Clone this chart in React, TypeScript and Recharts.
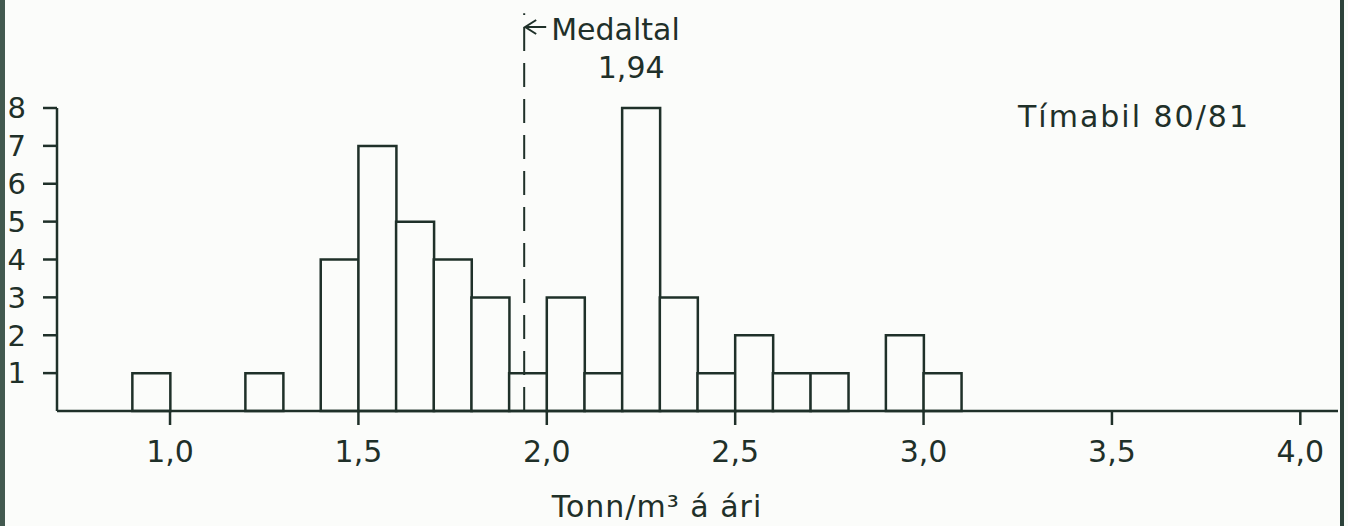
import { ComposedChart, Bar, XAxis, YAxis, ReferenceLine, Customized } from 'recharts';

// bin centres (0.1 wide bins) and how many fall in each
const binCenters = [0.95, 1.05, 1.15, 1.25, 1.35, 1.45, 1.55, 1.65, 1.75, 1.85, 1.95, 2.05, 2.15, 2.25, 2.35, 2.45, 2.55, 2.65, 2.75, 2.85, 2.95, 3.05];
const counts = [1, 0, 0, 1, 0, 4, 7, 5, 4, 3, 1, 3, 1, 8, 3, 1, 2, 1, 1, 0, 2, 1];
const xTicks = [1.0, 1.5, 2.0, 2.5, 3.0, 3.5, 4.0];
const yTicks = [1, 2, 3, 4, 5, 6, 7, 8];
const median = 1.94;

const data = binCenters.map((x, i) => ({ x, n: counts[i] }));

const INK = '#1f3029';
const FONT = '"DejaVu Sans", sans-serif';

const MedianLabel = (props: any) => {
  const x = props.viewBox && typeof props.viewBox.x === 'number' ? props.viewBox.x : 523;
  return (
    <g>
      <line x1={x + 1} y1={27} x2={x + 22} y2={27} stroke={INK} strokeWidth={2} />
      <polyline points={`${x + 12},20 ${x + 1},27 ${x + 12},34`} fill="none" stroke={INK} strokeWidth={2} />
      <text x={x + 27} y={40} fontSize={30} fontFamily={FONT} fill={INK}>Medaltal</text>
      <text x={x + 107} y={78} fontSize={30} fontFamily={FONT} fill={INK} textAnchor="middle">1,94</text>
    </g>
  );
};

const Notes = () => (
  <g>
    <text x={1018} y={127} fontSize={30} fontFamily={FONT} fill={INK} letterSpacing={2}>Tímabil 80/81</text>
    <text x={657} y={517} fontSize={30} fontFamily={FONT} fill={INK} textAnchor="middle" letterSpacing={1}>Tonn/m³ á ári</text>
  </g>
);

export default function App() {
  return (
    <div style={{ position: 'absolute', left: 0, top: 0, width: 1348, height: 526, background: '#fbfcfa', overflow: 'hidden' }}>
      {/* paper edges */}
      <div style={{ position: 'absolute', left: 0, top: 0, width: 5, height: 526, background: '#42594f' }} />
      <div style={{ position: 'absolute', left: 1340, top: 0, width: 4, height: 526, background: '#2c423a' }} />
      <ComposedChart
        width={1348}
        height={526}
        data={data}
        barCategoryGap={0}
        barGap={0}
        margin={{ top: 108, right: 10, bottom: 55, left: 0 }}
      >
        <XAxis
          dataKey="x"
          type="number"
          domain={[0.7, 4.1]}
          ticks={xTicks}
          interval={0}
          allowDataOverflow
          height={60}
          stroke={INK}
          strokeWidth={2.5}
          tickSize={14}
          tickMargin={16}
          tickLine={{ stroke: INK, strokeWidth: 2.5 }}
          tick={{ fill: INK, fontSize: 30, fontFamily: FONT }}
          tickFormatter={(v: number) => v.toFixed(1).replace('.', ',')}
        />
        <YAxis
          type="number"
          domain={[0, 8]}
          ticks={yTicks}
          interval={0}
          width={57}
          stroke={INK}
          strokeWidth={2.5}
          tickSize={14}
          tickMargin={17}
          tickLine={{ stroke: INK, strokeWidth: 2.5 }}
          tick={{ fill: INK, fontSize: 29, fontFamily: FONT }}
        />
        <Bar dataKey="n" fill="#fbfcfa" stroke={INK} strokeWidth={2.5} isAnimationActive={false} />
        <ReferenceLine
          segment={[{ x: median, y: 0 }, { x: median, y: 10.5 }]}
          ifOverflow="visible"
          stroke={INK}
          strokeWidth={2}
          strokeDasharray="24 12"
          label={MedianLabel}
        />
        <Customized component={Notes} />
      </ComposedChart>
    </div>
  );
}
